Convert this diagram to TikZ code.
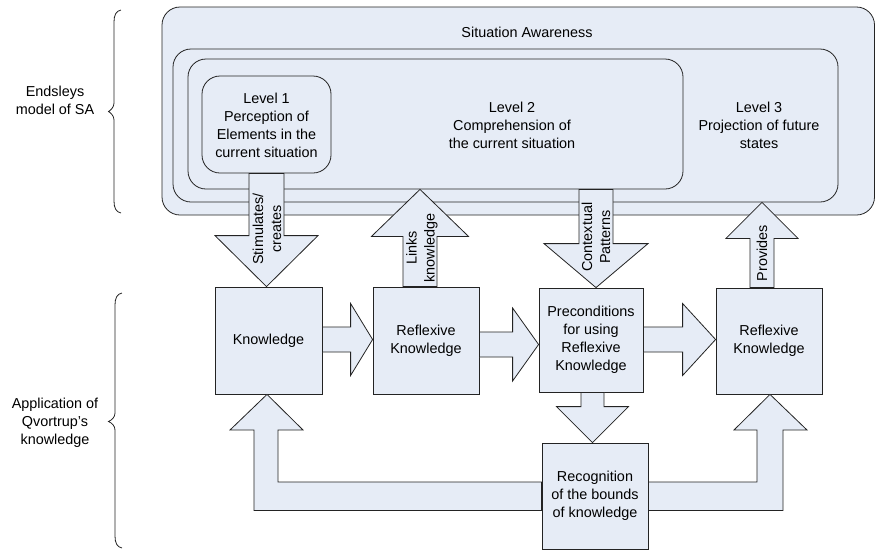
\documentclass[tikz,border=0pt]{standalone}
\usepackage{fontspec}
\setmainfont{Liberation Sans}
\usetikzlibrary{calc}
\definecolor{boxfill}{RGB}{230,236,246}
\definecolor{edge}{RGB}{35,35,35}
\tikzset{
  frame/.style={draw=edge, fill=boxfill, line width=0.8pt, rounded corners=18pt, inner sep=0pt},
  box/.style={draw=edge, fill=boxfill, line width=0.8pt, inner sep=2pt, align=center},
  blk/.style={draw=edge, fill=boxfill, line width=0.8pt, line join=miter},
  lbl/.style={align=center, inner sep=0pt},
  vlbl/.style={align=center, inner sep=0pt, rotate=90},
  bracket/.style={draw=edge, line width=0.8pt},
}
% block arrows: #1 centre line, #2 start anchor, #3 tip anchor,
% #4 shaft half width, #5 head half width, #6 head length
\newcommand\blkdown[6]{%
  \draw[blk] let \p1=(#2), \p2=(#3) in
    ({(#1-#4)*1pt},\y1) -- ({(#1-#4)*1pt},{\y2+#6*1pt}) -- ({(#1-#5)*1pt},{\y2+#6*1pt})
    -- ({#1*1pt},\y2) -- ({(#1+#5)*1pt},{\y2+#6*1pt}) -- ({(#1+#4)*1pt},{\y2+#6*1pt})
    -- ({(#1+#4)*1pt},\y1) -- cycle;}
\newcommand\blkup[6]{%
  \draw[blk] let \p1=(#2), \p2=(#3) in
    ({(#1-#4)*1pt},\y1) -- ({(#1-#4)*1pt},{\y2-#6*1pt}) -- ({(#1-#5)*1pt},{\y2-#6*1pt})
    -- ({#1*1pt},\y2) -- ({(#1+#5)*1pt},{\y2-#6*1pt}) -- ({(#1+#4)*1pt},{\y2-#6*1pt})
    -- ({(#1+#4)*1pt},\y1) -- cycle;}
\newcommand\blkright[6]{%
  \draw[blk] let \p1=(#2), \p2=(#3) in
    (\x1,{-(#1-#4)*1pt}) -- ({\x2-#6*1pt},{-(#1-#4)*1pt}) -- ({\x2-#6*1pt},{-(#1-#5)*1pt})
    -- (\x2,{-#1*1pt}) -- ({\x2-#6*1pt},{-(#1+#5)*1pt}) -- ({\x2-#6*1pt},{-(#1+#4)*1pt})
    -- (\x1,{-(#1+#4)*1pt}) -- cycle;}
\begin{document}
\begin{tikzpicture}[x=1pt, y=-1pt, font=\fontsize{14.4}{18}\selectfont]
\useasboundingbox (0,0) rectangle (876,550);

% nested situation awareness frames
\node[frame, minimum width=712.5pt, minimum height=208pt] (sa) at (518.25,111) {};
\node[frame, minimum width=665pt, minimum height=153pt] (l3) at (505.5,125.5) {};
\node[frame, minimum width=495pt, minimum height=130pt] (l2) at (435.5,124) {};
\node[frame, minimum width=129pt, minimum height=97pt] (l1) at (266.5,124.5) {};

\node[lbl] (satitle) at (527,32) {Situation Awareness};
\node[lbl] (l1t) at (266.5,125) {Level 1\\Perception of\\Elements in the\\current situation};
\node[lbl] (l2t) at (512,125) {Level 2\\Comprehension of\\the current situation};
\node[lbl] (l3t) at (759,125) {Level 3\\Projection of future\\states};

% knowledge boxes
\node[box, minimum width=107pt, minimum height=107pt] (k) at (268.5,340.5) {Knowledge};
\node[box, minimum width=106pt, minimum height=107pt] (rk1) at (426,340.5) {Reflexive\\Knowledge};
\node[box, minimum width=104pt, minimum height=104pt] (pre) at (591,340) {Preconditions\\for using\\Reflexive\\Knowledge};
\node[box, minimum width=106pt, minimum height=106pt] (rk2) at (769,341) {Reflexive\\Knowledge};
\node[box, minimum width=106pt, minimum height=106pt] (rec) at (595,496) {Recognition\\of the bounds\\of knowledge};

% block arrows
\blkdown{266.5}{l1.south}{k.north}{17.5}{51.5}{51}
\blkup{420}{rk1.north}{l2.south}{17}{48.5}{47}
\blkdown{596}{l2.south}{pre.north}{17}{52}{44}
\blkup{762}{rk2.north}{l3.south}{12}{36}{36}
\blkright{339.5}{k.east}{rk1.west}{12.5}{36}{22}
\blkright{344.5}{rk1.east}{pre.west}{12.5}{36.5}{26}
\blkright{339.5}{pre.east}{rk2.west}{12.5}{36}{33}
\blkdown{592.5}{pre.south}{rec.north}{11.5}{36}{36}

% feedback arrows from the recognition box
\draw[blk] let \p1=(rec.west), \p2=(k.south) in
  (\x1,-482pt) -- (278,482) -- (278,430) -- (303,430) -- (267pt,\y2)
  -- (230,430) -- (254,430) -- (254,510.5) -- (\x1,-510.5pt) -- cycle;
\draw[blk] let \p1=(rec.east), \p2=(rk2.south) in
  (\x1,-482pt) -- (757,482) -- (757,430) -- (734,430) -- (770pt,\y2)
  -- (807,430) -- (783,430) -- (783,510.5) -- (\x1,-510.5pt) -- cycle;

% arrow labels
\node[vlbl] (stim) at (267,229) {Stimulates/\\creates};
\node[vlbl] (links) at (422,248) {Links\\knowledge};
\node[vlbl] (ctx) at (596,237) {Contextual\\Patterns};
\node[vlbl] (prov) at (762,253) {Provides};

% side braces and captions
\draw[bracket] (121,10) .. controls (116,11) and (114,15) .. (114,22)
  -- (114,103) .. controls (114,107) and (111,110) .. (108.5,111.5)
  .. controls (111,113) and (114,116) .. (114,120)
  -- (114,201) .. controls (114,208) and (116,212) .. (121,213);
\draw[bracket] (122,293) .. controls (117,294) and (115,298) .. (115,305)
  -- (115,413) .. controls (115,417) and (112,420) .. (108.5,421.5)
  .. controls (112,423) and (115,426) .. (115,430)
  -- (115,536) .. controls (115,543) and (117,547) .. (122,548);
\node[lbl] (endsley) at (55,100) {Endsleys\\model of SA};
\node[lbl] (qv) at (55,423) {Application of\\Qvortrup’s\\knowledge};
\end{tikzpicture}
\end{document}
